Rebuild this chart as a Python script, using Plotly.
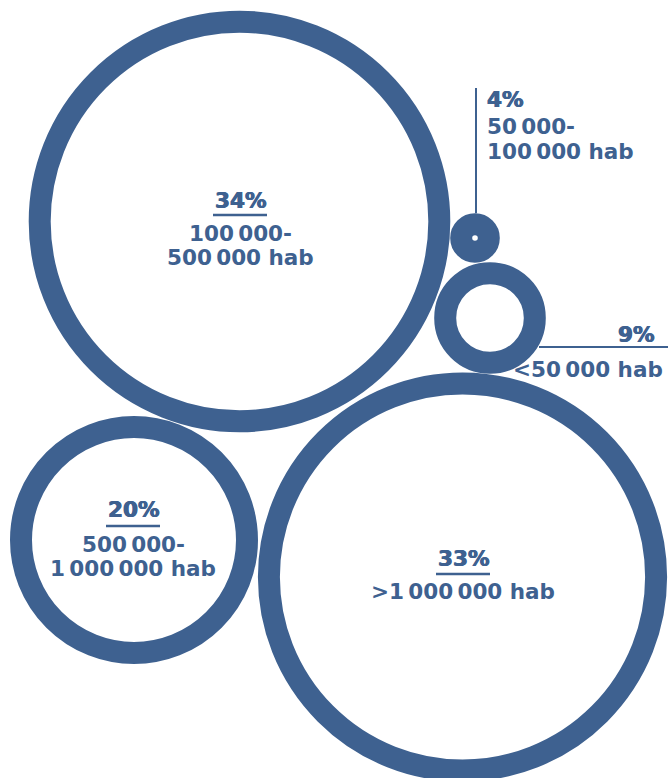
import plotly.graph_objects as go

# Share of population by city size
shares = [34, 4, 9, 20, 33]
pct_labels = ["34%", "4%", "9%", "20%", "33%"]
size_labels = [
    ["100\u202f000-", "500\u202f000 hab"],
    ["50\u202f000-", "100\u202f000 hab"],
    ["<50\u202f000 hab"],
    ["500\u202f000-", "1\u202f000\u202f000 hab"],
    [">1\u202f000\u202f000 hab"],
]

# Layout (pixel coordinates on a 668 x 778 canvas)
W, H = 668, 778
BLUE = "#3E6190"
R_PER_POINT = 6.2      # ring outer radius per percentage point
RING = 22              # ring thickness
centers = [(239.5, 221.5), (475, 238), (490, 318), (134, 540), (462.5, 577)]

LABEL_FONT = dict(family="DejaVu Sans", size=21.5, color=BLUE, weight="bold")
PCT_FONT = dict(family="DejaVu Sans", size=21.5, color=BLUE, weight="bold",
                shadow=f"0.5px 0 0 {BLUE}, -0.5px 0 0 {BLUE}")

fig = go.Figure()
fig.add_trace(go.Scatter(x=[0, W], y=[0, H], mode="markers",
                         marker=dict(opacity=0), hoverinfo="skip", showlegend=False))

shapes = []
for v, (cx, cy) in zip(shares, centers):
    r = v * R_PER_POINT - RING / 2
    shapes.append(dict(type="circle", xref="x", yref="y",
                       x0=cx - r, x1=cx + r, y0=cy - r, y1=cy + r,
                       line=dict(color=BLUE, width=RING), fillcolor="rgba(0,0,0,0)"))

annotations = []


def text(x, y, s, font, xanchor="center"):
    annotations.append(dict(x=x, y=y, xref="x", yref="y", text=s, showarrow=False,
                            font=font, xanchor=xanchor, yanchor="middle"))


def underline(x0, x1, y):
    shapes.append(dict(type="line", xref="x", yref="y", x0=x0, x1=x1, y0=y, y1=y,
                       line=dict(color=BLUE, width=2.6)))


# Labels placed inside the three large rings
inside = {0: (240, 200, 215, 233, 257), 3: (133, 509, 526, 544, 568), 4: (463, 558, 574, 591, None)}
for i, (x, yp, yu, y1, y2) in inside.items():
    text(x, yp, pct_labels[i], PCT_FONT)
    underline(x - 27, x + 27, yu)
    text(x, y1, size_labels[i][0], LABEL_FONT)
    if y2 is not None:
        text(x, y2, size_labels[i][1], LABEL_FONT)

# 4% ring: leader line going up, text to the right
cx, cy = centers[1]
shapes.append(dict(type="line", xref="x", yref="y", x0=cx + 1, x1=cx + 1, y0=88,
                   y1=cy - shares[1] * R_PER_POINT,
                   line=dict(color=BLUE, width=2)))
text(485, 99, pct_labels[1], PCT_FONT, "left")
text(485, 126, size_labels[1][0], LABEL_FONT, "left")
text(485, 151, size_labels[1][1], LABEL_FONT, "left")

# 9% ring: leader line going right, text above/below
shapes.append(dict(type="line", xref="x", yref="y", x0=539, x1=W, y0=347, y1=347,
                   line=dict(color=BLUE, width=2)))
text(657, 334, pct_labels[2], PCT_FONT, "right")
text(665, 369, size_labels[2][0], LABEL_FONT, "right")

fig.update_layout(
    width=W, height=H, margin=dict(l=0, r=0, t=0, b=0),
    paper_bgcolor="white", plot_bgcolor="white",
    xaxis=dict(range=[0, W], visible=False, fixedrange=True),
    yaxis=dict(range=[H, 0], visible=False, fixedrange=True),
    shapes=shapes, annotations=annotations, showlegend=False,
)
fig.write_html("out.html")
